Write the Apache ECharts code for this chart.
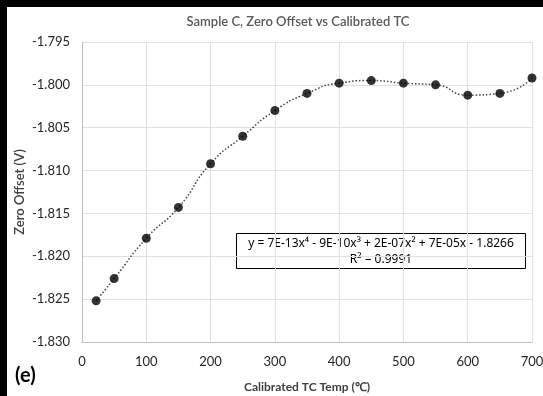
<!DOCTYPE html>
<html>
<head>
<meta charset="utf-8">
<script src="https://cdn.jsdelivr.net/npm/echarts@6/dist/echarts.min.js"></script>
<style>
  html, body { margin: 0; padding: 0; background: #000; }
  #frame { position: absolute; left: 0; top: 0; width: 543px; height: 396px; background: #000; }
  #chart { position: absolute; left: 7px; top: 7px; width: 536px; height: 389px; }
</style>
</head>
<body>
<div id="frame"></div>
<div id="chart"></div>
<script>
// calibrated TC temperature (°C)
var tempC = [22, 50, 100, 150, 200, 250, 300, 350, 400, 450, 500, 550, 600, 650, 700];
// zero offset (V)
var zeroOffset = [-1.8252, -1.8226, -1.8179, -1.8143, -1.8092, -1.8060, -1.8030, -1.8010,
                  -1.7998, -1.7995, -1.7998, -1.8000, -1.8012, -1.8010, -1.7992];
var titleText = 'Sample C, Zero Offset vs Calibrated TC';
var eqText = 'y = 7E-13x⁴ - 9E-10x³ + 2E-07x² + 7E-05x - 1.8266';
var r2Text = 'R² = 0.9991';
var panelLabel = '(e)';

var points = tempC.map(function (t, i) { return [t, zeroOffset[i]]; });
var font = 'Lato, "Open Sans", sans-serif';
var boxFont = '"Noto Sans", sans-serif';

var myChart = echarts.init(document.getElementById('chart'));
var option = {
    backgroundColor: '#fff',
    animation: false,
    grid: { left: 75, right: 11, top: 35, bottom: 54, containLabel: false, outerBoundsMode: 'none' },
    xAxis: {
        type: 'value',
        min: 0,
        max: 700,
        interval: 100,
        name: 'Calibrated TC Temp (℃)',
        nameLocation: 'middle',
        nameMoveOverlap: false,
        nameGap: 39,
        nameTextStyle: { fontFamily: font, fontSize: 12, fontWeight: 'bold', color: '#404040' },
        axisLine: { lineStyle: { color: '#bfbfbf' } },
        axisTick: { show: false },
        axisLabel: { fontFamily: font, fontSize: 13, color: '#262626', margin: 13 },
        splitLine: { show: true, lineStyle: { color: '#e0e0e0' } }
    },
    yAxis: {
        type: 'value',
        min: -1.830,
        max: -1.795,
        interval: 0.005,
        name: 'Zero Offset (V)',
        nameLocation: 'middle',
        nameMoveOverlap: false,
        nameGap: 56,
        nameTextStyle: { fontFamily: font, fontSize: 13, fontWeight: 600, color: '#404040' },
        axisLine: { show: true, lineStyle: { color: '#bfbfbf' } },
        axisTick: { show: false },
        axisLabel: {
            fontFamily: font, fontSize: 13, color: '#262626', margin: 12,
            formatter: function (v) { return v.toFixed(3); }
        },
        splitLine: { show: true, lineStyle: { color: '#e0e0e0' } }
    },
    series: [
        {
            // dotted trendline
            type: 'line',
            data: points,
            smooth: 0.6,
            symbol: 'none',
            lineStyle: { color: '#404040', width: 1.5, type: [1.5, 2] },
            z: 2
        },
        {
            type: 'scatter',
            data: points,
            symbolSize: 9,
            itemStyle: { color: '#000' },
            z: 3
        }
    ],
    graphic: [
        {
            type: 'text',
            x: 291,
            y: 15,
            style: {
                text: titleText, fontFamily: font, fontSize: 13, fontWeight: 600,
                fill: '#595959', align: 'center', verticalAlign: 'middle'
            }
        },
        {
            type: 'group',
            left: 229,
            top: 226,
            children: [
                {
                    type: 'rect',
                    shape: { x: 0, y: 0, width: 289, height: 35 },
                    style: { fill: '#fff', stroke: '#000', lineWidth: 1 }
                },
                {
                    type: 'text',
                    x: 144.5, y: 10,
                    style: { text: eqText, fontFamily: boxFont, fontSize: 12, fill: '#000', align: 'center', verticalAlign: 'middle' }
                },
                {
                    type: 'text',
                    x: 144.5, y: 26,
                    style: { text: r2Text, fontFamily: boxFont, fontSize: 12, fill: '#000', align: 'center', verticalAlign: 'middle' }
                }
            ]
        },
        {
            type: 'text',
            left: 8,
            top: 359,
            style: { text: panelLabel, fontFamily: font, fontSize: 20, fontWeight: 'bold', fill: '#000' }
        }
    ]
};
myChart.setOption(option);
</script>
</body>
</html>
